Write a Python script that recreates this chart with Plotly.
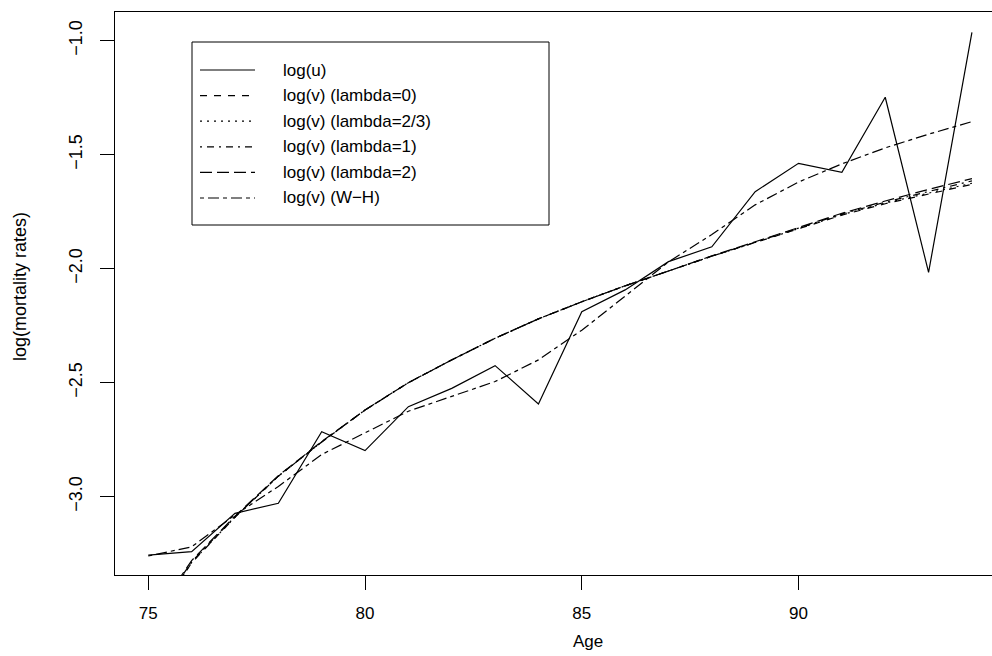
import plotly.graph_objects as go

# ---------------- data ----------------
ages = list(range(75, 95))
log_u = [-3.256, -3.241, -3.073, -3.029, -2.715, -2.798, -2.605, -2.525, -2.425, -2.593,
         -2.189, -2.093, -1.969, -1.904, -1.662, -1.538, -1.577, -1.248, -2.016, -0.963]
lam_0 = [-3.58, -3.29, -3.09, -2.91, -2.76, -2.62, -2.50, -2.40, -2.305, -2.22,
         -2.145, -2.075, -2.01, -1.945, -1.885, -1.825, -1.765, -1.715, -1.672, -1.630]
lam_23 = [-3.575, -3.288, -3.09, -2.91, -2.76, -2.62, -2.50, -2.40, -2.305, -2.22,
          -2.145, -2.075, -2.01, -1.945, -1.885, -1.824, -1.763, -1.712, -1.668, -1.625]
lam_1 = [-3.57, -3.285, -3.088, -2.91, -2.76, -2.62, -2.50, -2.40, -2.305, -2.22,
         -2.145, -2.075, -2.01, -1.945, -1.884, -1.822, -1.76, -1.708, -1.66, -1.615]
lam_2 = [-3.56, -3.28, -3.085, -2.908, -2.758, -2.62, -2.50, -2.40, -2.305, -2.22,
         -2.145, -2.075, -2.01, -1.944, -1.882, -1.82, -1.757, -1.703, -1.652, -1.605]
wh = [-3.26, -3.22, -3.08, -2.955, -2.815, -2.72, -2.625, -2.56, -2.495, -2.40,
      -2.27, -2.12, -1.97, -1.85, -1.72, -1.62, -1.54, -1.47, -1.41, -1.355]

series_names = ["log(u)", "log(v) (lambda=0)", "log(v) (lambda=2/3)",
                "log(v) (lambda=1)", "log(v) (lambda=2)", "log(v) (W\u2212H)"]
series_vals = [log_u, lam_0, lam_23, lam_1, lam_2, wh]
series_dash = ["solid", "7px,7px", "2px,5px", "2px,5px,7px,5px", "12px,5px", "4px,4px,11px,4px"]

x_ticks = [75, 80, 85, 90]
y_ticks = [-3.0, -2.5, -2.0, -1.5, -1.0]
y_tick_text = ["\u22123.0", "\u22122.5", "\u22122.0", "\u22121.5", "\u22121.0"]

# ---------------- layout constants ----------------
W, H = 992, 656
ML, MR, MT, MB = 115, 0, 12, 81
PW, PH = W - ML - MR, H - MT - MB
FONT = "Liberation Sans, Arial, Helvetica, sans-serif"
LW = 1.2

fig = go.Figure()
for name, vals, dash in zip(series_names, series_vals, series_dash):
    fig.add_trace(go.Scatter(x=ages, y=vals, mode="lines", name=name,
                             line=dict(color="black", width=LW, dash=dash),
                             showlegend=False, hoverinfo="skip"))

def px_x(p):
    return (p - ML) / PW

def px_y(p):
    return (H - MB - p) / PH

shapes = []
annotations = []
# legend box
shapes.append(dict(type="rect", xref="paper", yref="paper",
                   x0=px_x(192), x1=px_x(549), y0=px_y(225), y1=px_y(42),
                   line=dict(color="black", width=1), fillcolor="rgba(0,0,0,0)"))
row0, step = 70, 25.6
for i, (name, dash) in enumerate(zip(series_names, series_dash)):
    yy = row0 + i * step
    shapes.append(dict(type="line", xref="paper", yref="paper",
                       x0=px_x(200), x1=px_x(255), y0=px_y(yy), y1=px_y(yy),
                       line=dict(color="black", width=LW, dash=dash)))
    annotations.append(dict(xref="paper", yref="paper", x=px_x(281), y=px_y(yy),
                            xanchor="left", yanchor="middle", text=name, showarrow=False,
                            font=dict(family=FONT, size=17, color="black")))

# axis titles
annotations.append(dict(xref="paper", yref="paper", x=px_x(588), y=px_y(641),
                        xanchor="center", yanchor="middle", text="Age", showarrow=False,
                        font=dict(family=FONT, size=17, color="black")))
annotations.append(dict(xref="paper", yref="paper", x=px_x(20), y=px_y(287),
                        xanchor="center", yanchor="middle", text="log(mortality rates)",
                        showarrow=False, textangle=-90,
                        font=dict(family=FONT, size=18, color="black")))

fig.update_layout(
    width=W, height=H,
    margin=dict(l=ML, r=MR, t=MT, b=MB, pad=0),
    paper_bgcolor="white", plot_bgcolor="white",
    font=dict(family=FONT, size=17, color="black"),
    shapes=shapes, annotations=annotations,
    xaxis=dict(range=[74.232, 94.463], tickvals=x_ticks, ticks="outside", ticklen=14,
               tickwidth=1, tickcolor="black", showline=True, linecolor="black",
               linewidth=1.2, mirror=True, showgrid=False, zeroline=False,
               tickfont=dict(family=FONT, size=17, color="black"), ticklabelstandoff=8),
    yaxis=dict(range=[-3.3434, -0.8741], tickvals=y_ticks, ticktext=y_tick_text,
               ticks="outside", ticklen=14, tickwidth=1, tickcolor="black",
               showline=True, linecolor="black", linewidth=1.2, mirror=False,
               showgrid=False, zeroline=False, tickangle=-90,
               tickfont=dict(family=FONT, size=18, color="black"), ticklabelstandoff=11),
)

fig.write_html("out.html")
